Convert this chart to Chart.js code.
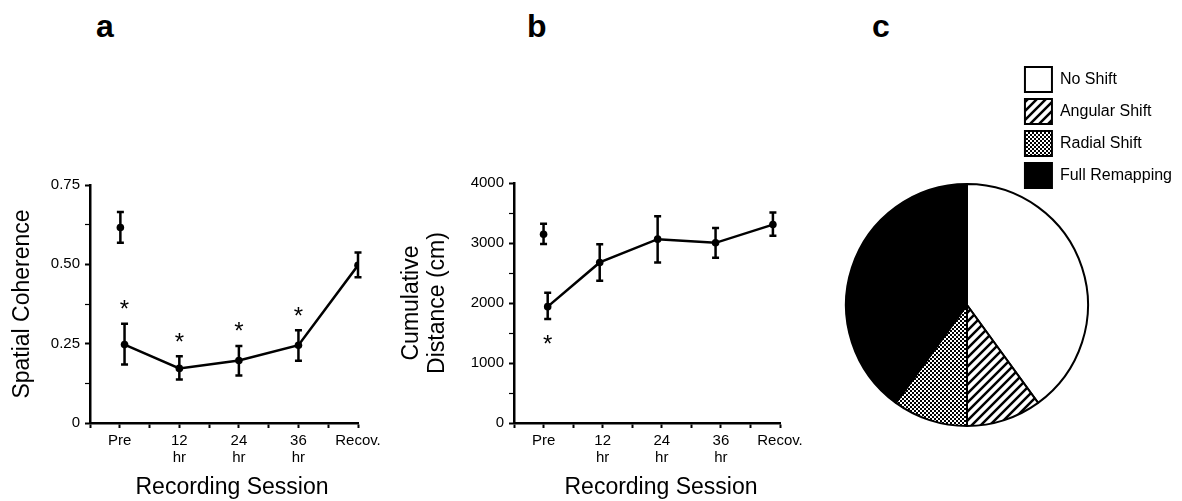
<!DOCTYPE html>
<html>
<head>
<meta charset="utf-8">
<script src="https://cdn.jsdelivr.net/npm/chart.js@4.4.1/dist/chart.umd.min.js"></script>
<style>
  html, body { margin: 0; padding: 0; background: #fff; overflow: hidden; }
  #page { position: relative; width: 1182px; height: 501px; overflow: hidden; }
  canvas { position: absolute; top: 0; }
  .panel { position: absolute; top: 10px; font: bold 32px/32px "Liberation Sans", Arial, sans-serif; }
</style>
</head>
<body>
<div id="page">
  <div class="panel" style="left:96px">a</div>
  <div class="panel" style="left:527px">b</div>
  <div class="panel" style="left:872px">c</div>
  <canvas id="chartA" width="400" height="501" style="left:0"></canvas>
  <canvas id="chartB" width="420" height="501" style="left:395px"></canvas>
  <canvas id="chartC" width="352" height="550" style="left:830px"></canvas>
</div>
<script>
// sessions on the x axis (index 0..4)
const sessions = ['Pre', ['12', 'hr'], ['24', 'hr'], ['36', 'hr'], 'Recov.'];

// a. spatial coherence
const cohPreX = [0.01];
const cohPre = [0.616];
const cohPreLo = [0.568];
const cohPreHi = [0.665];
const cohX = [0.08, 1, 2, 3, 4];
const coh = [0.247, 0.172, 0.197, 0.245, 0.497];
const cohLo = [0.184, 0.137, 0.150, 0.196, 0.459];
const cohHi = [0.313, 0.210, 0.243, 0.292, 0.537];
const cohStars = ['above', 'above', 'above', 'above', null];
const cohTicks = [0, 0.25, 0.5, 0.75];
const cohTickLabels = ['0', '0.25', '0.50', '0.75'];

// b. cumulative distance
const distPreX = [0];
const distPre = [3147];
const distPreLo = [2985];
const distPreHi = [3320];
const distX = [0.07, 0.95, 1.93, 2.91, 3.88];
const dist = [1939, 2676, 3064, 3003, 3307];
const distLo = [1734, 2371, 2676, 2753, 3119];
const distHi = [2172, 2980, 3446, 3252, 3507];
const distStars = ['below', null, null, null, null];
const distTicks = [0, 1000, 2000, 3000, 4000];
const distTickLabels = ['0', '1000', '2000', '3000', '4000'];

// c. field shifts
const shiftLabels = ['No Shift', 'Angular Shift', 'Radial Shift', 'Full Remapping'];
const shiftPct = [40, 10, 10, 40];

const FONT = '"Liberation Sans", Arial, sans-serif';
Chart.defaults.font.family = FONT;
Chart.defaults.color = '#000';
Chart.defaults.animation = false;

const pts = (xs, ys) => xs.map((x, i) => ({ x: x, y: ys[i] }));

// error bars + significance stars
const errorBars = {
  id: 'errorBars',
  afterDatasetsDraw(chart) {
    const { ctx } = chart;
    const y = chart.scales.y;
    ctx.save();
    ctx.strokeStyle = '#000';
    ctx.fillStyle = '#000';
    ctx.lineWidth = 2.5;
    chart.data.datasets.forEach((ds, di) => {
      chart.getDatasetMeta(di).data.forEach((pt, i) => {
        const top = y.getPixelForValue(ds.hi[i]);
        const bot = y.getPixelForValue(ds.lo[i]);
        ctx.beginPath();
        ctx.moveTo(pt.x, top); ctx.lineTo(pt.x, bot);
        ctx.moveTo(pt.x - 3.5, top); ctx.lineTo(pt.x + 3.5, top);
        ctx.moveTo(pt.x - 3.5, bot); ctx.lineTo(pt.x + 3.5, bot);
        ctx.stroke();
        const star = ds.stars && ds.stars[i];
        if (star) {
          ctx.font = '24px ' + FONT;
          ctx.textAlign = 'center';
          ctx.textBaseline = 'alphabetic';
          const cy = star === 'above' ? top - 20 : bot + 20;
          ctx.fillText('*', pt.x, cy + 13.5);
        }
      });
    });
    ctx.restore();
  }
};

// x axis title, nudged like the original
const sessionTitle = {
  id: 'sessionTitle',
  afterDraw(chart, args, opts) {
    const { ctx, chartArea } = chart;
    ctx.save();
    ctx.font = '23px ' + FONT;
    ctx.fillStyle = '#000';
    ctx.textAlign = 'center';
    ctx.textBaseline = 'middle';
    ctx.fillText(opts.text, (chartArea.left + chartArea.right) / 2 + opts.dx, chart.height - 13);
    ctx.restore();
  }
};

function sessionAxis() {
  return {
    type: 'linear', min: -0.5, max: 4,
    afterFit: s => { s.height = 78; },
    border: { color: '#000', width: 2.5 },
    grid: { drawOnChartArea: false, color: '#000', tickLength: 5, tickWidth: 2 },
    ticks: {
      stepSize: 0.5, autoSkip: false, maxRotation: 0, padding: 5,
      font: { size: 15, lineHeight: 1.1 },
      callback: v => Number.isInteger(v) ? sessions[v] : ''
    }
  };
}

function valueAxis(max, step, tickVals, tickLabels, width, title, titlePad) {
  return {
    min: 0, max: max,
    afterFit: s => { s.width = width; },
    border: { color: '#000', width: 2.5 },
    grid: {
      drawOnChartArea: false, color: '#000', tickLength: 5,
      tickWidth: c => tickVals.includes(c.tick.value) ? 2 : 1.2
    },
    ticks: {
      stepSize: step, autoSkip: false, padding: 5,
      font: { size: 15 },
      callback: v => { const i = tickVals.indexOf(v); return i < 0 ? '' : tickLabels[i]; }
    },
    title: { display: true, text: title, font: { size: 23, lineHeight: 1.13 }, padding: { top: titlePad, bottom: 0 } }
  };
}

const dot = { pointRadius: 3.8, pointBackgroundColor: '#000', pointBorderWidth: 0, borderColor: '#000' };

// a
new Chart(document.getElementById('chartA'), {
  type: 'line',
  data: {
    datasets: [
      Object.assign({ data: pts(cohPreX, cohPre), lo: cohPreLo, hi: cohPreHi, showLine: false }, dot),
      Object.assign({ data: pts(cohX, coh), lo: cohLo, hi: cohHi, stars: cohStars, borderWidth: 2.5 }, dot)
    ]
  },
  options: {
    responsive: false,
    layout: { padding: { top: 185, right: 42, left: 0, bottom: 0 } },
    plugins: {
      legend: { display: false }, tooltip: { enabled: false },
      sessionTitle: { text: 'Recording Session', dx: 8 }
    },
    scales: {
      x: sessionAxis(),
      y: valueAxis(0.75, 0.125, cohTicks, cohTickLabels, 90, 'Spatial Coherence', 10)
    }
  },
  plugins: [errorBars, sessionTitle]
});

// b
new Chart(document.getElementById('chartB'), {
  type: 'line',
  data: {
    datasets: [
      Object.assign({ data: pts(distPreX, distPre), lo: distPreLo, hi: distPreHi, showLine: false }, dot),
      Object.assign({ data: pts(distX, dist), lo: distLo, hi: distHi, stars: distStars, borderWidth: 2.5 }, dot)
    ]
  },
  options: {
    responsive: false,
    layout: { padding: { top: 183, right: 35, left: 0, bottom: 0 } },
    plugins: {
      legend: { display: false }, tooltip: { enabled: false },
      sessionTitle: { text: 'Recording Session', dx: 14 }
    },
    scales: {
      x: sessionAxis(),
      y: valueAxis(4000, 500, distTicks, distTickLabels, 119, ['Cumulative', 'Distance (cm)'], 4)
    }
  },
  plugins: [errorBars, sessionTitle]
});

// c patterns
function stripes() {
  const c = document.createElement('canvas');
  c.width = 9; c.height = 9;
  const g = c.getContext('2d');
  g.fillStyle = '#fff'; g.fillRect(0, 0, 9, 9);
  g.strokeStyle = '#000'; g.lineWidth = 2.5;
  g.beginPath();
  g.moveTo(-1, 10); g.lineTo(10, -1);
  g.moveTo(-3, 3); g.lineTo(3, -3);
  g.moveTo(6, 12); g.lineTo(12, 6);
  g.stroke();
  return g.createPattern(c, 'repeat');
}
function dots() {
  const c = document.createElement('canvas');
  c.width = 4; c.height = 4;
  const g = c.getContext('2d');
  g.fillStyle = '#000'; g.fillRect(0, 0, 4, 4);
  g.fillStyle = '#fff';
  g.fillRect(0, 0, 2, 2);
  g.fillRect(2, 2, 2, 2);
  return g.createPattern(c, 'repeat');
}

new Chart(document.getElementById('chartC'), {
  type: 'pie',
  data: {
    labels: shiftLabels,
    datasets: [{
      data: shiftPct,
      backgroundColor: ['#fff', stripes(), dots(), '#000'],
      borderColor: '#000',
      borderWidth: 2,
      radius: 121,
      clip: false
    }]
  },
  options: {
    responsive: false,
    layout: { padding: { top: 60, left: 86, right: 0, bottom: 0 } },
    plugins: {
      tooltip: { enabled: false },
      legend: {
        position: 'right', align: 'start', maxWidth: 170,
        labels: { boxWidth: 27, boxHeight: 25, padding: 7, font: { size: 16 }, color: '#000' }
      }
    }
  }
});
</script>
</body>
</html>
